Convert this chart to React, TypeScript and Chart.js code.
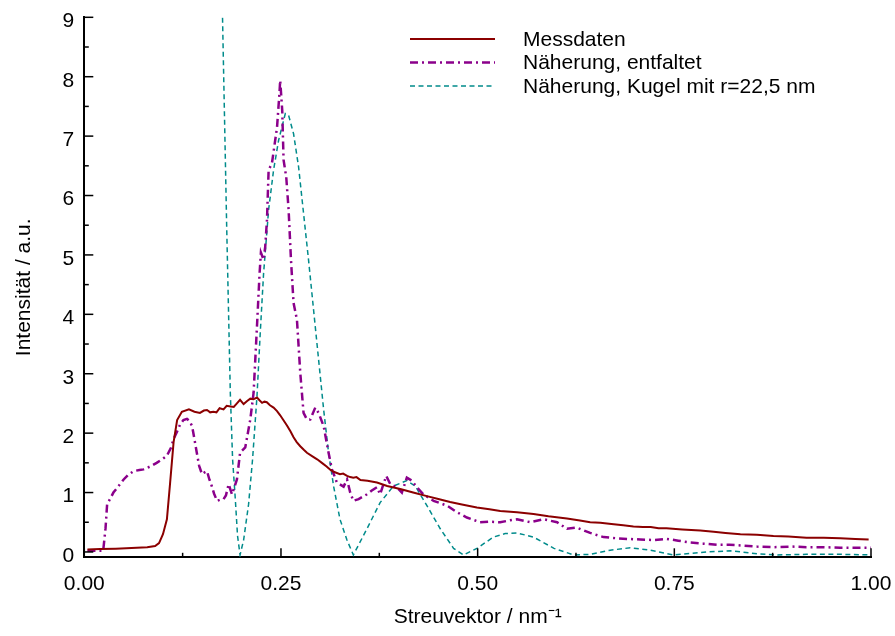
import React, { useEffect, useRef } from "react";
import { Chart, registerables } from "chart.js";

Chart.register(...registerables);

// ---------- data ----------
const messX = [0.004, 0.02, 0.04, 0.06, 0.08, 0.09, 0.095, 0.1, 0.105, 0.109, 0.1135, 0.118, 0.124, 0.133, 0.14, 0.147, 0.152, 0.156, 0.16, 0.164, 0.168, 0.172, 0.177, 0.181, 0.186, 0.19, 0.194, 0.198, 0.2025, 0.207, 0.211, 0.215, 0.2195, 0.223, 0.226, 0.229, 0.232, 0.236, 0.2406, 0.245, 0.249, 0.253, 0.2576, 0.262, 0.266, 0.27, 0.2745, 0.279, 0.283, 0.29, 0.296, 0.302, 0.308, 0.313, 0.317, 0.321, 0.325, 0.329, 0.334, 0.338, 0.342, 0.346, 0.351, 0.36, 0.372, 0.385, 0.4016, 0.418, 0.4355, 0.45, 0.465, 0.48, 0.499, 0.515, 0.5287, 0.55, 0.571, 0.59, 0.6135, 0.63, 0.643, 0.656, 0.67, 0.685, 0.698, 0.71, 0.72, 0.73, 0.74, 0.76, 0.783, 0.8, 0.815, 0.834, 0.855, 0.876, 0.895, 0.918, 0.94, 0.961, 0.98, 0.997];
const messY = [0.04, 0.05, 0.055, 0.065, 0.08, 0.1, 0.15, 0.3, 0.55, 1.15, 1.85, 2.22, 2.36, 2.4, 2.36, 2.34, 2.38, 2.39, 2.35, 2.36, 2.35, 2.42, 2.4, 2.46, 2.45, 2.44, 2.5, 2.56, 2.49, 2.54, 2.58, 2.57, 2.6, 2.55, 2.51, 2.53, 2.52, 2.47, 2.43, 2.37, 2.3, 2.22, 2.13, 2.03, 1.93, 1.85, 1.78, 1.72, 1.67, 1.61, 1.56, 1.5, 1.44, 1.38, 1.35, 1.33, 1.31, 1.32, 1.28, 1.26, 1.25, 1.26, 1.21, 1.2, 1.17, 1.11, 1.06, 1.0, 0.94, 0.89, 0.84, 0.8, 0.75, 0.72, 0.69, 0.67, 0.64, 0.6, 0.565, 0.53, 0.5, 0.49, 0.47, 0.45, 0.43, 0.42, 0.42, 0.4, 0.4, 0.38, 0.36, 0.34, 0.32, 0.3, 0.29, 0.27, 0.26, 0.24, 0.24, 0.23, 0.22, 0.21];

const fitX = [0.004, 0.024, 0.027, 0.029, 0.033, 0.037, 0.043, 0.05, 0.056, 0.0627, 0.07, 0.0754, 0.084, 0.092, 0.1, 0.105, 0.11, 0.1135, 0.118, 0.122, 0.126, 0.1305, 0.134, 0.137, 0.14, 0.143, 0.146, 0.1496, 0.153, 0.156, 0.159, 0.162, 0.165, 0.1687, 0.173, 0.177, 0.18, 0.1835, 0.1877, 0.191, 0.194, 0.198, 0.2046, 0.211, 0.2152, 0.2195, 0.2228, 0.2245, 0.2279, 0.23, 0.2322, 0.2343, 0.2385, 0.245, 0.248, 0.249, 0.2516, 0.2533, 0.2567, 0.2597, 0.2627, 0.266, 0.2703, 0.2745, 0.2787, 0.283, 0.2872, 0.2936, 0.2978, 0.3042, 0.3105, 0.3148, 0.321, 0.3296, 0.334, 0.338, 0.342, 0.3487, 0.3593, 0.365, 0.372, 0.376, 0.3838, 0.389, 0.397, 0.4037, 0.41, 0.4164, 0.4227, 0.431, 0.444, 0.461, 0.4736, 0.4863, 0.503, 0.515, 0.5287, 0.54, 0.55, 0.567, 0.584, 0.601, 0.6135, 0.626, 0.643, 0.66, 0.677, 0.69, 0.7067, 0.725, 0.74, 0.755, 0.77, 0.787, 0.804, 0.82, 0.834, 0.855, 0.876, 0.9, 0.918, 0.94, 0.961, 0.98, 1.0];
const fitY = [0.02, 0.02, 0.4, 0.8, 0.9, 1.0, 1.1, 1.22, 1.3, 1.36, 1.38, 1.39, 1.44, 1.5, 1.57, 1.62, 1.75, 1.9, 2.03, 2.15, 2.22, 2.24, 2.2, 2.12, 1.9, 1.67, 1.45, 1.31, 1.34, 1.36, 1.22, 1.11, 0.98, 0.86, 0.88, 0.89, 0.95, 1.14, 0.97, 1.1, 1.22, 1.67, 1.76, 2.23, 2.68, 3.8, 4.69, 5.04, 4.92, 5.14, 5.59, 6.43, 6.54, 7.15, 7.71, 7.94, 7.43, 6.6, 6.31, 5.76, 4.92, 4.19, 3.91, 3.02, 2.34, 2.23, 2.23, 2.43, 2.34, 2.12, 1.67, 1.39, 1.17, 1.1, 1.22, 1.0, 0.86, 0.89, 0.97, 1.03, 1.09, 0.97, 1.28, 1.14, 1.09, 1.0, 1.25, 1.2, 1.09, 0.97, 0.86, 0.78, 0.67, 0.58, 0.5, 0.51, 0.5, 0.53, 0.55, 0.5, 0.55, 0.5, 0.39, 0.41, 0.32, 0.25, 0.23, 0.22, 0.21, 0.2, 0.22, 0.19, 0.16, 0.14, 0.12, 0.12, 0.11, 0.09, 0.08, 0.09, 0.08, 0.08, 0.07, 0.07, 0.07];

const kugelX = [0.168, 0.1757, 0.181, 0.1856, 0.1885, 0.1919, 0.1948, 0.198, 0.2025, 0.2088, 0.2139, 0.2195, 0.2237, 0.2279, 0.2343, 0.2406, 0.247, 0.2555, 0.2597, 0.266, 0.2724, 0.2787, 0.285, 0.2914, 0.2978, 0.3042, 0.3105, 0.317, 0.325, 0.3339, 0.342, 0.3593, 0.376, 0.393, 0.41, 0.4207, 0.4355, 0.4525, 0.4694, 0.482, 0.499, 0.52, 0.535, 0.55, 0.571, 0.597, 0.622, 0.643, 0.6685, 0.694, 0.7194, 0.749, 0.7914, 0.821, 0.855, 0.88, 0.918, 0.961, 1.0];
const kugelY = [14, 9, 5.47, 2.68, 1.56, 0.9, 0.27, -0.05, 0.2, 0.8, 1.56, 2.62, 3.7, 4.69, 5.76, 6.43, 6.93, 7.38, 7.35, 7.04, 6.48, 5.7, 4.92, 4.08, 3.24, 2.4, 1.67, 1.1, 0.55, 0.2, -0.05, 0.39, 0.83, 1.11, 1.2, 1.11, 0.78, 0.39, 0.06, -0.05, 0.06, 0.25, 0.31, 0.32, 0.25, 0.06, -0.05, -0.04, 0.03, 0.07, 0.03, -0.05, 0.0, 0.02, -0.03, -0.05, -0.04, -0.04, -0.05];

const seriesLabels = ["Messdaten", "Näherung, entfaltet", "Näherung, Kugel mit r=22,5 nm"];
const xTickValues = [0, 0.25, 0.5, 0.75, 1];
const xMinorTickValues = [0.125, 0.375, 0.625, 0.875];
const yTickValues = [0, 1, 2, 3, 4, 5, 6, 7, 8, 9];
const yMinorTickValues = [0.5, 1.5, 2.5, 3.5, 4.5, 5.5, 6.5, 7.5, 8.5];
const xTitle = "Streuvektor / nm⁻¹";
const yTitle = "Intensität / a.u.";

// ---------- styles ----------
const FONT = "'Liberation Sans', Arial, Helvetica, sans-serif";
const COLORS = ["#8b0000", "#8b008b", "#008b8b"];
const WIDTHS = [2, 2.5, 1.5];
const DASHES: number[][] = [[], [8, 4, 2, 4], [5, 3.5]];

const toPoints = (xs: number[], ys: number[]) => xs.map((x, i) => ({ x, y: ys[i] }));

const inwardTicks = {
  id: "inwardTicks",
  afterDatasetsDraw(chart: any) {
    const { ctx, chartArea, scales } = chart;
    ctx.save();
    ctx.strokeStyle = "#000";
    ctx.lineWidth = 1.5;
    ctx.setLineDash([]);
    const seg = (x1: number, y1: number, x2: number, y2: number) => {
      ctx.beginPath();
      ctx.moveTo(x1, y1);
      ctx.lineTo(x2, y2);
      ctx.stroke();
    };
    xTickValues.forEach((v) => {
      const p = scales.x.getPixelForValue(v);
      seg(p, chartArea.bottom, p, chartArea.bottom - 9);
    });
    xMinorTickValues.forEach((v) => {
      const p = scales.x.getPixelForValue(v);
      seg(p, chartArea.bottom, p, chartArea.bottom - 4.5);
    });
    yTickValues.forEach((v) => {
      const p = scales.y.getPixelForValue(v);
      seg(chartArea.left, p, chartArea.left + 9, p);
    });
    yMinorTickValues.forEach((v) => {
      const p = scales.y.getPixelForValue(v);
      seg(chartArea.left, p, chartArea.left + 4.5, p);
    });
    ctx.restore();
  },
};

const keyBox = {
  id: "keyBox",
  afterDatasetsDraw(chart: any) {
    const { ctx } = chart;
    const rows = [39, 62.5, 86];
    ctx.save();
    chart.data.datasets.forEach((ds: any, i: number) => {
      const y = rows[i];
      ctx.beginPath();
      ctx.strokeStyle = ds.borderColor;
      ctx.lineWidth = ds.borderWidth;
      ctx.setLineDash(ds.borderDash || []);
      ctx.moveTo(410, y);
      ctx.lineTo(495, y);
      ctx.stroke();
      ctx.setLineDash([]);
      ctx.fillStyle = "#000";
      ctx.font = `21px ${FONT}`;
      ctx.textBaseline = "middle";
      ctx.textAlign = "left";
      ctx.fillText(ds.label, 523, y + 1);
    });
    ctx.restore();
  },
};

export default function App() {
  const ref = useRef<HTMLCanvasElement | null>(null);

  useEffect(() => {
    if (!ref.current) return;
    const series = [
      toPoints(messX, messY),
      toPoints(fitX, fitY),
      toPoints(kugelX, kugelY),
    ];
    const chart = new Chart(ref.current, {
      type: "line",
      data: {
        datasets: series.map((pts, i) => ({
          label: seriesLabels[i],
          data: pts,
          borderColor: COLORS[i],
          backgroundColor: COLORS[i],
          borderWidth: WIDTHS[i],
          borderDash: DASHES[i],
          pointRadius: 0,
          tension: 0,
          fill: false,
        })),
      },
      options: {
        animation: false,
        responsive: false,
        events: [],
        layout: { padding: { top: 17.3, right: 24, left: 0, bottom: 0 } },
        plugins: {
          legend: { display: false },
          tooltip: { enabled: false },
        },
        scales: {
          x: {
            type: "linear",
            min: 0,
            max: 1,
            afterFit: (s: any) => {
              s.height = 636 - 557.3;
              s.paddingLeft = 0;
              s.paddingRight = 0;
            },
            afterBuildTicks: (s: any) => {
              s.ticks = xTickValues.map((value) => ({ value }));
            },
            grid: { display: false, drawTicks: false },
            border: { display: true, color: "#000", width: 2 },
            ticks: {
              color: "#000",
              padding: 14,
              maxRotation: 0,
              autoSkip: false,
              font: { family: FONT, size: 21 },
              callback: (v: any) => Number(v).toFixed(2),
            },
            title: {
              display: true,
              text: xTitle,
              color: "#000",
              font: { family: FONT, size: 21 },
              padding: { top: 0, bottom: 6 },
            },
          },
          y: {
            type: "linear",
            min: -0.09,
            max: 9,
            afterFit: (s: any) => {
              s.width = 84.3;
              s.paddingTop = 0;
              s.paddingBottom = 0;
            },
            afterBuildTicks: (s: any) => {
              s.ticks = yTickValues.map((value) => ({ value }));
            },
            grid: { display: false, drawTicks: false },
            border: { display: true, color: "#000", width: 2 },
            ticks: {
              color: "#000",
              padding: 10,
              labelOffset: 4,
              autoSkip: false,
              font: { family: FONT, size: 21 },
              callback: (v: any) => String(v),
            },
            title: {
              display: true,
              text: yTitle,
              color: "#000",
              font: { family: FONT, size: 21 },
              padding: { top: 12, bottom: 0 },
            },
          },
        },
      },
      plugins: [inwardTicks, keyBox],
    });
    return () => chart.destroy();
  }, []);

  return (
    <div style={{ position: "absolute", left: 0, top: 0, width: 895, height: 636, background: "#fff" }}>
      <canvas ref={ref} width={895} height={636} style={{ display: "block" }} />
    </div>
  );
}
